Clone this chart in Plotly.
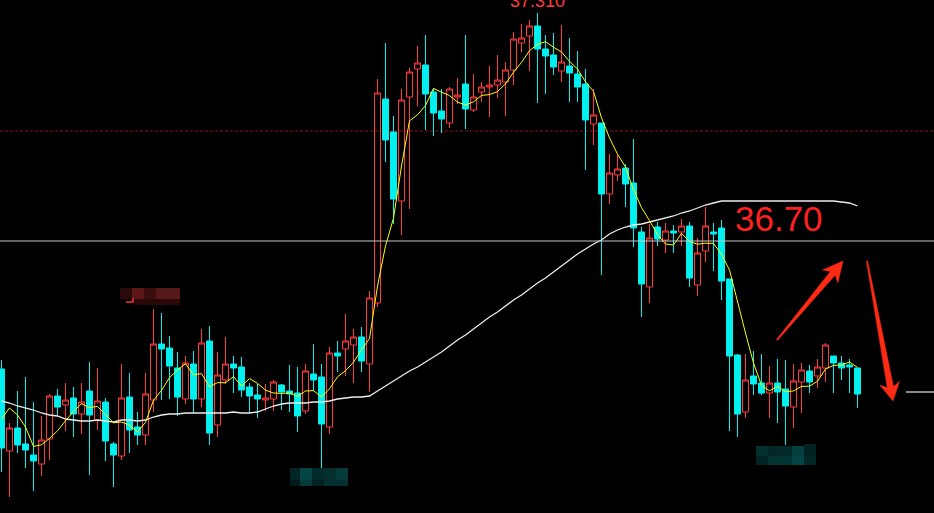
import plotly.graph_objects as go
import pandas as pd

# ---------------- data ----------------
open_ = [36.38, 36.175, 36.2325, 36.1925, 36.165, 36.1425, 36.205, 36.3125, 36.29, 36.3075,
         36.2675, 36.325, 36.2525, 36.2975, 36.1925, 36.1625, 36.31, 36.235, 36.215, 36.3025,
         36.4425, 36.4325, 36.3825, 36.305, 36.3925, 36.305, 36.45, 36.24, 36.3525, 36.3925,
         36.385, 36.335, 36.315, 36.3025, 36.305, 36.34, 36.325, 36.32, 36.275, 36.3675,
         36.36, 36.235, 36.42, 36.43, 36.44, 36.46, 36.3925, 36.545, 37.055, 36.9725,
         36.80, 37.06, 37.13, 37.14, 37.0725, 37.025, 36.995, 37.06, 37.0925, 37.0275,
         37.0725, 37.085, 37.09, 37.0975, 37.1275, 37.195, 37.2125, 37.2375, 37.18, 37.165,
         37.125, 37.1375, 37.1175, 37.0925, 36.9925, 36.995, 36.8175, 36.865, 36.8825, 36.845,
         36.7225, 36.585, 36.735, 36.7025, 36.725, 36.7225, 36.7375, 36.59, 36.675, 36.7225,
         36.7325, 36.605, 36.415, 36.2725, 36.3625, 36.345, 36.32, 36.345, 36.33, 36.285,
         36.3475, 36.375, 36.3625, 36.3825, 36.4125, 36.395, 36.39, 36.3825]
high = [36.4025, 36.245, 36.325, 36.36, 36.2975, 36.2625, 36.3175, 36.33, 36.345, 36.335,
        36.345, 36.3975, 36.3825, 36.3075, 36.1975, 36.3925, 36.37, 36.2725, 36.37, 36.53,
        36.52, 36.4625, 36.4225, 36.4125, 36.425, 36.48, 36.4875, 36.4225, 36.46, 36.4125,
        36.41, 36.345, 36.3425, 36.3425, 36.3525, 36.3425, 36.39, 36.385, 36.3925, 36.4425,
        36.3925, 36.435, 36.45, 36.5175, 36.48, 36.485, 36.575, 37.105, 37.195, 37.0125,
        37.08, 37.1325, 37.1875, 37.215, 37.0825, 37.08, 37.085, 37.1075, 37.215, 37.1175,
        37.0975, 37.1375, 37.165, 37.1475, 37.2225, 37.2425, 37.2525, 37.27, 37.215, 37.22,
        37.24, 37.2075, 37.175, 37.13, 37.08, 36.995, 36.9175, 36.915, 36.8925, 36.955,
        36.735, 36.7425, 36.7475, 36.745, 36.74, 36.755, 36.7475, 36.7075, 36.785, 36.745,
        36.7525, 36.605, 36.4175, 36.4175, 36.425, 36.4175, 36.3875, 36.405, 36.4025, 36.3925,
        36.395, 36.39, 36.405, 36.445, 36.4125, 36.4125, 36.405, 36.3825]
low = [36.1225, 36.06, 36.17, 36.1325, 36.075, 36.1125, 36.1525, 36.265, 36.225, 36.21,
       36.2175, 36.115, 36.2275, 36.15, 36.085, 36.1525, 36.17, 36.19, 36.19, 36.2725,
       36.3025, 36.305, 36.2625, 36.2925, 36.27, 36.285, 36.19, 36.21, 36.3425, 36.32,
       36.31, 36.27, 36.2575, 36.275, 36.275, 36.2775, 36.2725, 36.2225, 36.2675, 36.325,
       36.1325, 36.2175, 36.3725, 36.3625, 36.345, 36.3725, 36.3225, 36.535, 36.8975, 36.7425,
       36.715, 36.78, 37.0375, 36.9775, 36.9625, 36.97, 36.9825, 37.0425, 36.98, 37.0225,
       37.0475, 37.01, 37.0575, 37.0125, 37.09, 37.1725, 37.125, 37.045, 37.0675, 37.115,
       37.0975, 37.0475, 37.0475, 36.8775, 36.94, 36.615, 36.7925, 36.85, 36.785, 36.685,
       36.51, 36.545, 36.6875, 36.67, 36.67, 36.6875, 36.585, 36.5625, 36.6475, 36.625,
       36.5525, 36.225, 36.21, 36.2575, 36.315, 36.315, 36.2575, 36.245, 36.19, 36.2325,
       36.27, 36.32, 36.3325, 36.3475, 36.32, 36.3525, 36.32, 36.2825]
close = [36.1825, 36.2325, 36.19, 36.1775, 36.15, 36.2025, 36.3125, 36.285, 36.3025, 36.2675,
         36.2975, 36.265, 36.30, 36.20, 36.165, 36.3075, 36.2275, 36.215, 36.3175, 36.4425,
         36.43, 36.3875, 36.31, 36.395, 36.305, 36.445, 36.22, 36.365, 36.3925, 36.3825,
         36.3275, 36.3125, 36.305, 36.3075, 36.3475, 36.3225, 36.3175, 36.2625, 36.375, 36.3525,
         36.2425, 36.42, 36.4125, 36.45, 36.46, 36.40, 36.5575, 37.07, 36.9525, 36.805,
         37.0525, 37.1225, 37.145, 37.0675, 37.02, 37.005, 37.08, 37.065, 37.03, 37.06,
         37.085, 37.09, 37.1025, 37.1275, 37.205, 37.2075, 37.2375, 37.18, 37.1625, 37.135,
         37.1475, 37.12, 37.085, 37.0025, 37.015, 36.8175, 36.87, 36.88, 36.8425, 36.7325,
         36.5925, 36.7075, 36.705, 36.725, 36.72, 36.7375, 36.6075, 36.67, 36.7375, 36.7175,
         36.60, 36.4125, 36.2675, 36.3525, 36.3425, 36.32, 36.345, 36.3225, 36.2875, 36.35,
         36.3775, 36.3475, 36.385, 36.44, 36.395, 36.3825, 36.385, 36.3175]
# closes of the four sessions just left of the window (feed the 5-period average)
prev_close = [36.095, 36.2775, 36.3275, 36.3925]
# long moving average (white line)
ma_long = [36.30, 36.295, 36.2875, 36.2825, 36.2775, 36.27, 36.265, 36.2625, 36.255, 36.2525,
           36.25, 36.25, 36.2525, 36.25, 36.2475, 36.2525, 36.2525, 36.25, 36.2525, 36.26,
           36.265, 36.2675, 36.2675, 36.27, 36.27, 36.27, 36.27, 36.27, 36.27, 36.2725,
           36.27, 36.27, 36.2725, 36.28, 36.2875, 36.2925, 36.295, 36.295, 36.295, 36.2975,
           36.2975, 36.30, 36.305, 36.3075, 36.31, 36.31, 36.3125, 36.325, 36.3375, 36.35,
           36.3625, 36.375, 36.385, 36.3975, 36.41, 36.4225, 36.4375, 36.4525, 36.465, 36.48,
           36.495, 36.51, 36.5225, 36.5375, 36.5525, 36.565, 36.58, 36.595, 36.6075, 36.6225,
           36.6375, 36.6525, 36.6675, 36.68, 36.6925, 36.7025, 36.7175, 36.7275, 36.735, 36.74,
           36.7425, 36.7475, 36.7525, 36.7575, 36.7625, 36.77, 36.775, 36.7825, 36.79, 36.795,
           36.80, 36.80, 36.80, 36.80, 36.80, 36.80, 36.80, 36.80, 36.80, 36.80,
           36.80, 36.80, 36.80, 36.80, 36.80, 36.7975, 36.795, 36.7875]

level_price = 36.70        # grey horizontal line / big red label
dash_level = 36.975        # dark red dotted line
right_mark = 36.3225       # short white mark at right edge
label_level = "36.70"
label_high = "37.310"

# ---------------- figure ----------------
W, H = 934, 513
idx = list(range(len(close)))
ma5 = pd.Series(prev_close + close).rolling(5).mean().iloc[len(prev_close):].tolist()
top_i = max(idx, key=lambda i: high[i])

UP = '#ff3c3c'
DOWN = '#00f0f0'

fig = go.Figure()
fig.add_trace(go.Candlestick(
    x=idx, open=open_, high=high, low=low, close=close,
    increasing=dict(line=dict(color=UP, width=1), fillcolor='rgba(0,0,0,0)'),
    decreasing=dict(line=dict(color=DOWN, width=1), fillcolor=DOWN),
    whiskerwidth=0, showlegend=False, hoverinfo='skip'))
fig.add_trace(go.Scatter(x=idx, y=ma_long, mode='lines',
                         line=dict(color='#ececec', width=1.3), showlegend=False, hoverinfo='skip'))
fig.add_trace(go.Scatter(x=idx, y=ma5, mode='lines',
                         line=dict(color='#ffff00', width=1), showlegend=False, hoverinfo='skip'))


def P(x, y):
    return f"{x / W:.5f},{1 - y / H:.5f}"


def poly(pts):
    return "M " + " L ".join(P(x, y) for x, y in pts) + " Z"


shapes = [
    dict(type='line', xref='paper', x0=0, x1=1, yref='y', y0=level_price, y1=level_price,
         line=dict(color='#c8c8c8', width=1), layer='above'),
    dict(type='line', xref='paper', x0=0, x1=1, yref='y', y0=dash_level, y1=dash_level,
         line=dict(color='#8a1414', width=1, dash='3px,2px'), layer='below'),
    dict(type='line', xref='paper', x0=906 / W, x1=1, yref='y', y0=right_mark, y1=right_mark,
         line=dict(color='#e8e8e8', width=1.2), layer='above'),
]

# red arrows
ARROW = '#ff2a14'
arrow_up = [(776.5, 339.6), (830.4, 271.4), (822.5, 269.9), (843, 261),
            (837.9, 282.7), (835.0, 275.2), (777.5, 340.4)]
arrow_down = [(867.6, 260.9), (893.5, 386.6), (899.5, 381.5), (893, 401),
              (879.9, 385.1), (887.3, 387.8), (866.4, 261.1)]
for pts in (arrow_up, arrow_down):
    shapes.append(dict(type='path', xref='paper', yref='paper', path=poly(pts),
                       fillcolor=ARROW, line=dict(color=ARROW, width=0.5), layer='above'))

# pixelated (masked) labels
mosaic = [
    # red block
    (120, 288, 132, 299, '#2a0a0a'), (132, 288, 144, 299, '#5c1616'), (144, 288, 156, 299, '#3a0e0e'),
    (156, 288, 180, 299, '#561818'), (134, 299, 180, 305, '#2a0808'),
    # teal block 1
    (290, 468, 300, 480, '#022626'), (300, 468, 312, 480, '#044444'), (312, 468, 324, 480, '#032a2a'),
    (324, 468, 336, 480, '#03302e'), (336, 468, 348, 480, '#043c3a'),
    (290, 480, 300, 486, '#011818'), (300, 480, 312, 486, '#053a3a'), (312, 480, 324, 486, '#022222'),
    (324, 480, 348, 486, '#033030'),
    # teal block 2
    (756, 446, 768, 456, '#033030'), (768, 446, 780, 456, '#022828'), (780, 446, 792, 456, '#032a2a'),
    (792, 446, 804, 456, '#044040'), (804, 444, 816, 456, '#022222'),
    (756, 456, 768, 465, '#022424'), (768, 456, 792, 465, '#033434'), (792, 456, 804, 465, '#044444'),
    (804, 456, 816, 465, '#022828'),
]
for x0, y0, x1, y1, c in mosaic:
    shapes.append(dict(type='rect', xref='paper', yref='paper', x0=x0 / W, x1=x1 / W,
                       y0=1 - y1 / H, y1=1 - y0 / H, fillcolor=c, line=dict(width=0), layer='above'))
# red hook glyph in the red block
shapes.append(dict(type='path', xref='paper', yref='paper',
                   path="M " + P(126, 302) + " L " + P(133, 302) + " L " + P(133, 298),
                   line=dict(color='#ff3030', width=1.5), layer='above'))

annotations = [
    dict(xref='paper', yref='paper', x=779 / W, y=1 - 219 / H, text=label_level, showarrow=False,
         xanchor='center', yanchor='middle',
         font=dict(family='Liberation Sans, Arial, sans-serif', size=35, color='#ff2020')),
    dict(xref='x', yref='y', x=top_i, y=high[top_i], text=label_high, showarrow=False,
         xanchor='center', yanchor='bottom', yshift=0,
         font=dict(family='Liberation Sans, Arial, sans-serif', size=18, color='#ff3c3c')),
]

fig.update_layout(
    width=W, height=H,
    margin=dict(l=0, r=0, t=0, b=0),
    paper_bgcolor='black', plot_bgcolor='black',
    showlegend=False,
    boxgap=0.25, boxgroupgap=0,
    xaxis=dict(visible=False, range=[-0.1875, 116.5625], rangeslider=dict(visible=False)),
    yaxis=dict(visible=False, range=[36.02, 37.3025]),
    shapes=shapes, annotations=annotations,
)

fig.write_html(
    "out.html",
    config=dict(displayModeBar=False),
    post_script="document.body.style.margin='0';document.body.style.overflow='hidden';"
                "document.body.style.background='black';",
)
